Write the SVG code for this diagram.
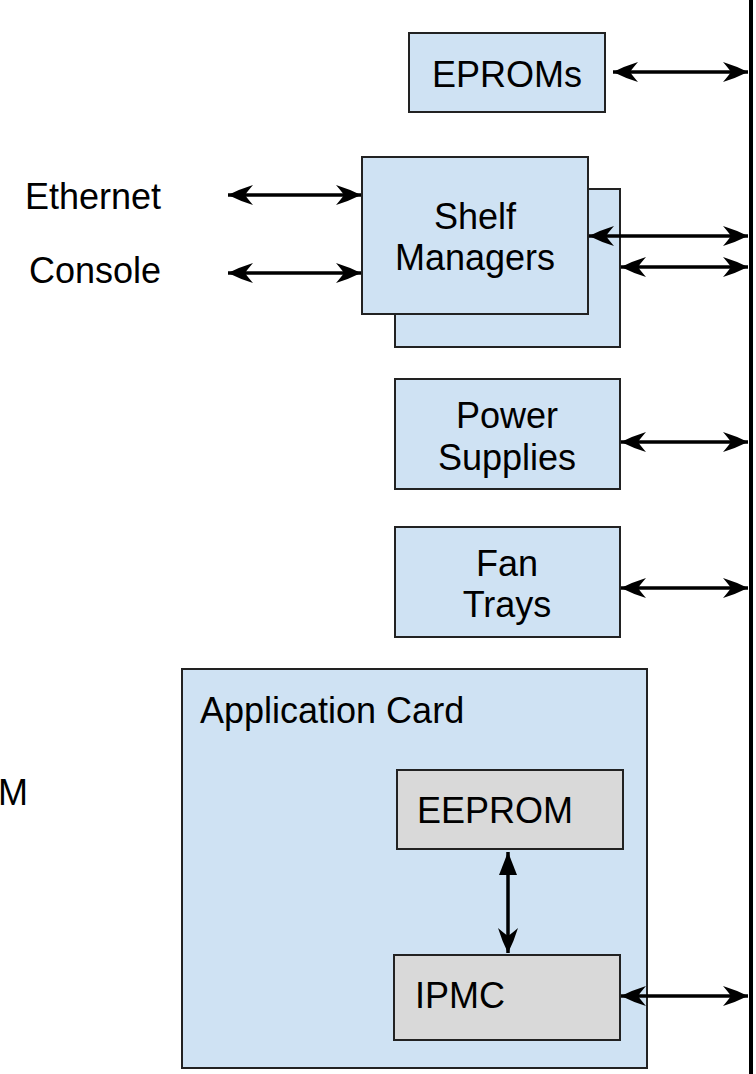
<svg xmlns="http://www.w3.org/2000/svg" width="756" height="1074" viewBox="0 0 756 1074">
  <style>
    .box { fill: #cfe2f3; stroke: #222; stroke-width: 2; }
    .chip { fill: #d9d9d9; stroke: #222; stroke-width: 2; }
    .lbl { font-family: "Liberation Sans", Arial, sans-serif; font-size: 36px; fill: #000; }
    .mid { text-anchor: middle; }
    .link { stroke: #000; stroke-width: 3.5; fill: none; marker-start: url(#head-start); marker-end: url(#head-end); }
  </style>
  <defs>
    <!-- swept-back arrowhead, tip at the line end -->
    <marker id="head-end" markerUnits="userSpaceOnUse" markerWidth="30" markerHeight="24" refX="26" refY="12" orient="auto" overflow="visible">
      <path d="M26,12 Q14,6 1,2 Q7,9 9,12 Q7,15 1,22 Q14,18 26,12 Z" fill="#000"/>
    </marker>
    <marker id="head-start" markerUnits="userSpaceOnUse" markerWidth="30" markerHeight="24" refX="0" refY="12" orient="auto" overflow="visible">
      <path d="M0,12 Q12,6 25,2 Q19,9 17,12 Q19,15 25,22 Q12,18 0,12 Z" fill="#000"/>
    </marker>
    <marker id="tri-start" markerUnits="userSpaceOnUse" markerWidth="24" markerHeight="20" refX="0" refY="9" orient="auto" overflow="visible">
      <path d="M0,9 L23,0 L23,18 Z" fill="#000"/>
    </marker>
  </defs>

  <!-- backplane bus -->
  <rect id="bus" x="749" y="0" width="4" height="1074" fill="#000"/>

  <!-- off-page label -->
  <text class="lbl" x="-2" y="805">M</text>

  <g id="eproms">
    <rect class="box" x="409" y="33" width="196" height="79"/>
    <text class="lbl mid" x="507" y="87">EPROMs</text>
  </g>

  <g id="ethernet">
    <text class="lbl mid" x="93" y="209">Ethernet</text>
  </g>
  <g id="console">
    <text class="lbl mid" x="95" y="283">Console</text>
  </g>

  <g id="shelf-managers">
    <rect class="box" x="395" y="189" width="225" height="158"/>
    <rect class="box" x="362" y="157" width="226" height="157"/>
    <text class="lbl mid" x="475" y="229">Shelf</text>
    <text class="lbl mid" x="475" y="270">Managers</text>
  </g>

  <g id="power-supplies">
    <rect class="box" x="395" y="379" width="225" height="110"/>
    <text class="lbl mid" x="507" y="428">Power</text>
    <text class="lbl mid" x="507" y="470">Supplies</text>
  </g>

  <g id="fan-trays">
    <rect class="box" x="395" y="527" width="225" height="110"/>
    <text class="lbl mid" x="507" y="576">Fan</text>
    <text class="lbl mid" x="507" y="617">Trays</text>
  </g>

  <g id="application-card">
    <rect class="box" x="182" y="669" width="465" height="399"/>
    <text class="lbl" x="200" y="723">Application Card</text>
  </g>

  <g id="eeprom">
    <rect class="chip" x="397" y="770" width="226" height="79"/>
    <text class="lbl" x="417" y="823">EEPROM</text>
  </g>

  <g id="ipmc">
    <rect class="chip" x="394" y="955" width="226" height="85"/>
    <text class="lbl" x="415" y="1008">IPMC</text>
  </g>

  <g id="connectors">
    <line class="link" x1="613" y1="72" x2="748" y2="72"/>
    <line class="link" x1="228" y1="195" x2="361" y2="195"/>
    <line class="link" x1="228" y1="273" x2="361" y2="273"/>
    <line class="link" x1="589" y1="236" x2="748" y2="236"/>
    <line class="link" x1="621" y1="267" x2="748" y2="267"/>
    <line class="link" x1="621" y1="442" x2="748" y2="442"/>
    <line class="link" x1="621" y1="588" x2="748" y2="588"/>
    <line class="link" x1="621" y1="996" x2="748" y2="996"/>
    <line x1="508" y1="852" x2="508" y2="953" stroke="#000" stroke-width="3.5" marker-start="url(#tri-start)" marker-end="url(#head-end)"/>
  </g>
</svg>
